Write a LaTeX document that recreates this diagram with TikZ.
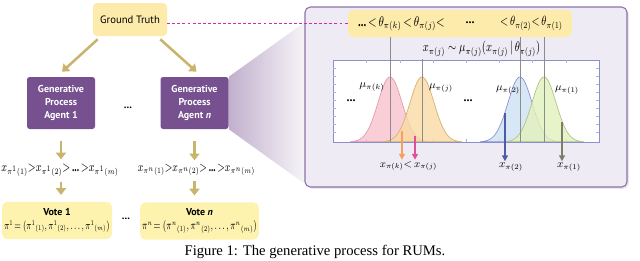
\documentclass[tikz,border=0pt]{standalone}
\usepackage{fontspec}
\usepackage{graphicx}
\setmainfont{Liberation Serif}
\newfontfamily\boxfont{PT Sans}
\DeclareMathSizes{9}{9}{5.6}{4.4}
\DeclareMathSizes{8}{8}{5}{4}
\usetikzlibrary{arrows.meta,shadows,calc}
\definecolor{gtyellow}{HTML}{FCEBAA}
\definecolor{agentpurple}{HTML}{76508F}
\definecolor{arrtan}{HTML}{C9B46C}
\definecolor{panelfill}{HTML}{EFEBF5}
\definecolor{panelline}{HTML}{8E72AA}
\definecolor{votefill}{HTML}{FDF3AE}
\definecolor{dashmag}{HTML}{D0309E}
\definecolor{plotline}{HTML}{8A8FD0}
\definecolor{pinkf}{HTML}{F8C2CE}\definecolor{pinkd}{HTML}{E09AAA}
\definecolor{orangef}{HTML}{F9DBA4}\definecolor{oranged}{HTML}{D5B070}
\definecolor{bluef}{HTML}{CFE1F4}\definecolor{blued}{HTML}{8791D2}
\definecolor{greenf}{HTML}{E2F1BC}\definecolor{greend}{HTML}{AFC383}
\definecolor{arrorange}{HTML}{F5A15E}
\definecolor{arrpink}{HTML}{E0509A}
\definecolor{arrblue}{HTML}{4E5CA6}
\definecolor{arrolive}{HTML}{7E7E6C}
\newcommand\fw[2]{\resizebox{#1}{!}{$#2$}}
\newcommand\fws[3]{\scalebox{1}[#2]{\resizebox{#1}{!}{$#3$}}}
\newcommand\gausscurve[5]{%
  \filldraw[fill=#4, draw=#5, fill opacity=0.8, line width=0.5pt]
    plot[domain=#2:#3, samples=61, smooth]
    (\x,{142-65*exp(-0.5*((\x-#1)/12)*((\x-#1)/12))}) -- cycle;}
\begin{document}
\begin{tikzpicture}[x=0.75pt,y=-0.75pt,
  gtbox/.style={fill=gtyellow, rounded corners=3pt, minimum width=55.5pt, minimum height=24.75pt, inner sep=1pt, font=\boxfont\fontsize{8}{9}\selectfont},
  agentbox/.style={fill=agentpurple, rounded corners=2pt, minimum width=51pt, minimum height=39pt, text=white, align=center, inner sep=1pt, font=\boxfont\bfseries\fontsize{7.5}{10}\selectfont},
  votebox/.style={fill=votefill, rounded corners=4pt, minimum height=28pt, align=center, inner sep=1pt, font=\fontsize{8}{9.5}\selectfont},
  tanarrow/.style={draw=arrtan, line width=1.9pt, -{Triangle[width=7.5pt,length=5pt]}},
  mathlbl/.style={inner sep=0pt, font=\fontsize{9}{10}\selectfont},
  dotsl/.style={inner sep=0pt, font=\boxfont\bfseries\fontsize{8}{9}\selectfont},
  vline/.style={draw=black!45, line width=0.5pt},
  xarrow/.style={line width=1.5pt, -{Triangle[width=4.5pt,length=4.5pt]}},
  tick/.style={draw=plotline!70, line width=0.4pt}]
\useasboundingbox (0,0) rectangle (640,261);
% left tree
\node[gtbox] (gt) at (130,19.5) {Ground Truth};
\node[agentbox] (a1) at (61,103) {Generative\\Process\\Agent 1};
\node[agentbox] (an) at (194.5,103) {Generative\\Process\\Agent \textit{n}};
\node[dotsl] (d1) at (128,108) {...};
\node[mathlbl, font=\fontsize{8}{9}\selectfont] (e1) at (60,170) {\fws{88pt}{1.4}{x_{\pi^1(1)}{>}x_{\pi^1(2)}{>}\,\textbf{...}\,{>}x_{\pi^1(m)}}};
\node[mathlbl, font=\fontsize{8}{9}\selectfont] (en) at (196.5,170) {\fws{88pt}{1.4}{x_{\pi^n(1)}{>}x_{\pi^n(2)}{>}\,\textbf{...}\,{>}x_{\pi^n(m)}}};
\node[votebox, minimum width=82.5pt] (v1) at (57,220.5) {{\boxfont\bfseries\fontsize{7.5}{9}\selectfont Vote 1}\\[1pt]\fws{79pt}{1.45}{\pi^1\!=(\pi^1{}_{(1)},\pi^1{}_{(2)},\ldots,\pi^1{}_{(m)})}};
\node[votebox, minimum width=89pt] (vn) at (199.5,221) {{\boxfont\bfseries\fontsize{7.5}{9}\selectfont Vote \textit{n}}\\[1pt]\fws{86pt}{1.45}{\pi^n\!=(\pi^n{}_{(1)},\pi^n{}_{(2)},\ldots,\pi^n{}_{(m)})}};
\node[dotsl] (d2) at (126,219) {...};
\draw[tanarrow] ($(gt.south west)+(5,3)$) -- ($(a1.north)+(1,-5)$);
\draw[tanarrow] ($(gt.south east)+(-7,3)$) -- ($(an.north)+(2,-5)$);
\draw[tanarrow, shorten <=9pt, shorten >=3pt] (a1.south) -- (a1.south |- e1.north);
\draw[tanarrow, shorten <=9pt, shorten >=3pt] (an.south) -- (an.south |- en.north);
\draw[tanarrow, shorten <=4pt, shorten >=5pt] (a1.south |- e1.south) -- (a1.south |- v1.north);
\draw[tanarrow, shorten <=4pt, shorten >=5pt] (an.south |- en.south) -- (an.south |- vn.north);
% zoom wedge
\shade[left color=agentpurple!45, right color=agentpurple!6] (an.north east) -- (305,22) -- (305,184) -- (an.south east) -- cycle;
% panel
\node[draw=panelline, fill=panelfill, line width=0.8pt, rounded corners=4pt, minimum width=241.5pt, minimum height=135pt, inner sep=0pt,
  drop shadow={opacity=0.25, shadow xshift=1.2pt, shadow yshift=-1.2pt}] (panel) at (466,97) {};
\node[fill=gtyellow, rounded corners=4pt, minimum width=168pt, minimum height=20.25pt, inner sep=0pt] (th) at (460,23.5) {};
\draw[draw=dashmag, dash pattern=on 2.2pt off 1.6pt, line width=0.9pt] (gt.east |- th.west) -- (th.west);
\node[mathlbl] (t1) at (401.5,23.5) {\fws{65pt}{1.3}{\textbf{...}\,{<}\,\theta_{\pi(k)}\,{<}\,\theta_{\pi(j)}{<}}};
\node[mathlbl] (t2) at (470,23) {\textbf{...}};
\node[mathlbl] (t3) at (531.5,23.5) {\fws{47pt}{1.3}{{<}\,\theta_{\pi(2)}{<}\,\theta_{\pi(1)}}};
\node[mathlbl] (fm) at (481.5,49) {\fws{88pt}{1.35}{x_{\pi(j)}\sim\mu_{\pi(j)}(x_{\pi(j)}\,|\,\theta_{\pi(j)})}};
% plot
\node[draw=plotline, fill=white, line width=0.6pt, minimum width=199.5pt, minimum height=61.5pt, inner sep=0pt] (pl) at (466,101) {};
\foreach \yy in {68,76,84,92,100,108,116,124,132} {
  \draw[tick] (333,\yy) -- (336,\yy);
  \draw[tick] (599,\yy) -- (596,\yy);}
\foreach \xx in {366,400,433,466,499,532,566} {
  \draw[tick] (\xx,60) -- (\xx,63);
  \draw[tick] (\xx,142) -- (\xx,139);}
\gausscurve{390}{350}{430}{pinkf}{pinkd}
\gausscurve{422}{382}{462}{orangef}{oranged}
\gausscurve{520}{480}{560}{bluef}{blued}
\gausscurve{544}{504}{584}{greenf}{greend}
\draw[plotline, line width=0.6pt] (333,142) -- (599,142);
\draw[vline] (390,37) -- (390,142);
\draw[vline] (422,59) -- (422,142);
\draw[vline] (520,37) -- (520,142);
\draw[vline] (544,37) -- (544,142);
\node[mathlbl] (mk) at (372,87) {\fw{19pt}{\mu_{\pi(k)}}};
\node[mathlbl] (mj) at (441,88) {\fw{18pt}{\mu_{\pi(j)}}};
\node[mathlbl] (m2) at (508,90) {\fw{18pt}{\mu_{\pi(2)}}};
\node[mathlbl] (m1) at (567,90) {\fw{18pt}{\mu_{\pi(1)}}};
\node[mathlbl] (pd1) at (351,101) {\textbf{...}};
\node[mathlbl] (pd2) at (468,101) {\textbf{...}};
\node[mathlbl] (xkj) at (408.5,166) {\fw{43pt}{x_{\pi(k)}{<}\,x_{\pi(j)}}};
\node[mathlbl] (x2) at (511,167) {\fw{18pt}{x_{\pi(2)}}};
\node[mathlbl] (x1) at (569,167) {\fw{18pt}{x_{\pi(1)}}};
\coordinate (ao) at (402,131); \coordinate (ap) at (415,136);
\coordinate (ab) at (505,113); \coordinate (ag) at (562,122);
\draw[xarrow, arrorange] (ao) -- ([yshift=1pt]ao |- xkj.north);
\draw[xarrow, arrpink] (ap) -- ([yshift=1pt]ap |- xkj.north);
\draw[xarrow, arrblue] (ab) -- ([yshift=1pt]ab |- x2.north);
\draw[xarrow, arrolive] (ag) -- ([yshift=1pt]ag |- x1.north);
% caption
\node[inner sep=0pt, font=\fontsize{11}{12}\selectfont] (cap) at (315,252) {Figure 1: The generative process for RUMs.};
\end{tikzpicture}
\end{document}
